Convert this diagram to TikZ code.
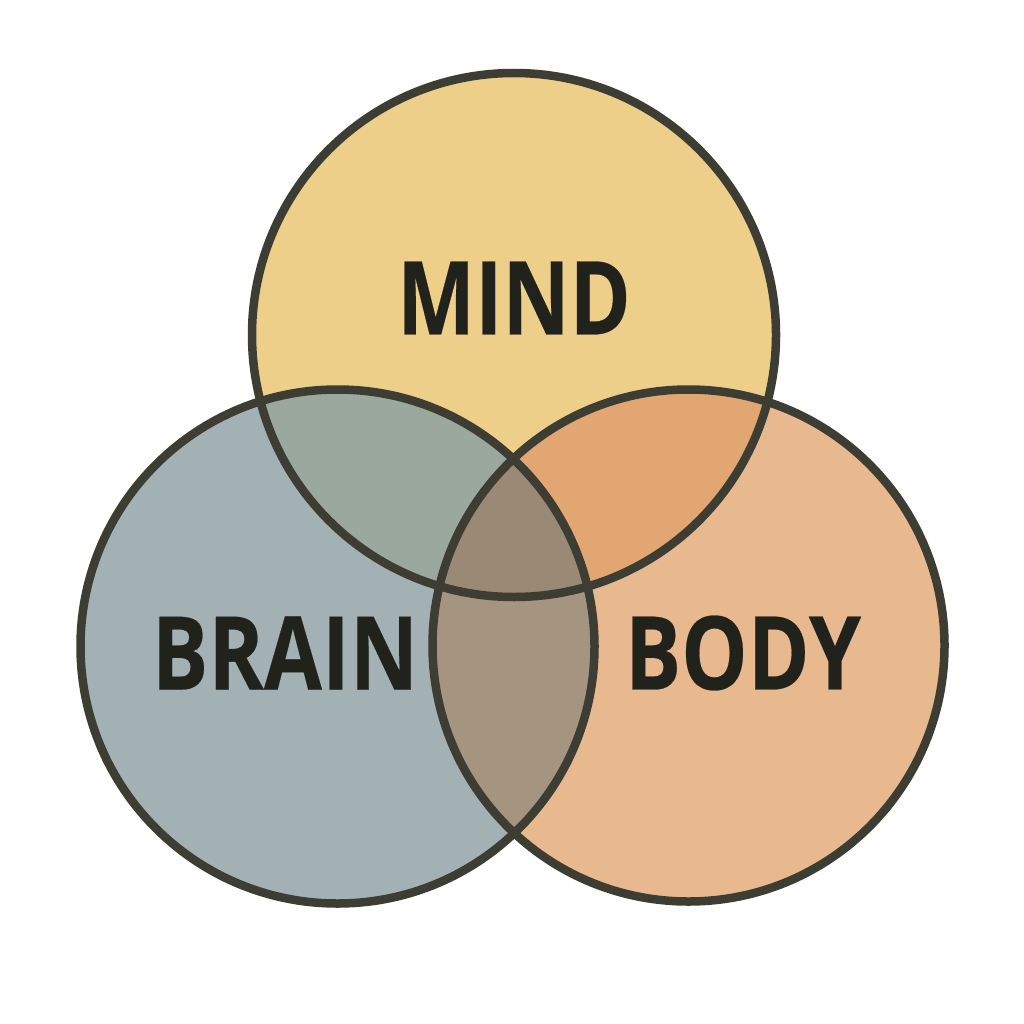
\documentclass[tikz,border=0pt]{standalone}
\usepackage{fontspec}
\setmainfont{Open Sans}[Kerning=Off,FakeBold=0.25]
\definecolor{mindc}{HTML}{EDCF8A}
\definecolor{brainc}{HTML}{A3B1B4}
\definecolor{bodyc}{HTML}{E8B98F}
\definecolor{mb}{HTML}{9BA89E}
\definecolor{mo}{HTML}{E2A672}
\definecolor{bo}{HTML}{A59580}
\definecolor{mbo}{HTML}{9A8A75}
\definecolor{edge}{HTML}{3E3D33}
\definecolor{ink}{HTML}{22221C}
\tikzset{ring/.style={draw=edge,line width=8.5pt},
 lab/.style={font=\fontsize{102}{102}\bfseries\selectfont,text=ink,inner sep=0pt,anchor=center}}
\def\cmind{(514,335) circle (262)}
\def\cbrain{(337.5,646.5) circle (257)}
\def\cbody{(688.5,645.5) circle (256)}
\begin{document}
\begin{tikzpicture}[x=1pt,y=-1pt]
\useasboundingbox[fill=white] (0,0) rectangle (1024,1024);
\fill[mindc] \cmind;
\fill[brainc] \cbrain;
\fill[bodyc] \cbody;
\begin{scope}\clip \cmind; \fill[mb] \cbrain; \fill[mo] \cbody; \end{scope}
\begin{scope}\clip \cbrain; \fill[bo] \cbody; \end{scope}
\begin{scope}\clip \cmind; \clip \cbrain; \fill[mbo] \cbody; \end{scope}
\draw[ring] \cmind;
\draw[ring] \cbrain;
\draw[ring] \cbody;
\node[lab] (mind) at (514,298) {\scalebox{0.81}[1]{MIND}};
\node[lab] (brain) at (285,653) {\scalebox{0.825}[1]{BRAIN}};
\node[lab] (body) at (743,653) {\scalebox{0.82}[1]{BODY}};
\end{tikzpicture}
\end{document}
